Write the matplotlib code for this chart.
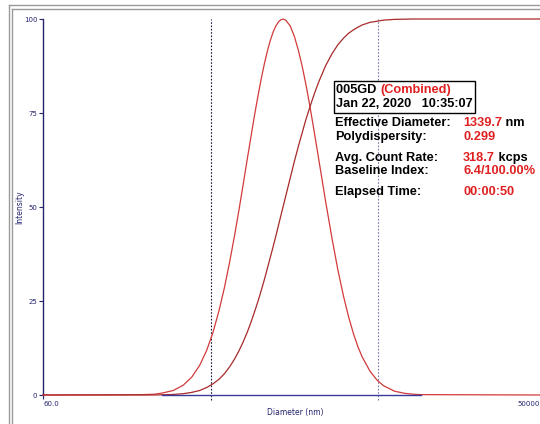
import matplotlib
matplotlib.use("Agg")
import matplotlib.pyplot as plt
from matplotlib.lines import Line2D
from matplotlib.patches import Rectangle

# diameters (nm) and intensity / cumulative values
diameter = [60, 230, 270, 300, 350, 400, 450, 500, 550, 600, 650, 700, 750, 800,
            850, 900, 950, 1000, 1050, 1100, 1150, 1200, 1250, 1300, 1350, 1400,
            1450, 1500, 1550, 1600, 1700, 1800, 1900, 2000, 2100, 2200, 2350,
            2500, 2750, 3000, 3250, 3500, 3750, 4000, 4250, 4500, 5000, 5500,
            6000, 7000, 8000, 9000, 10000, 50000]
intensity = [0, 0.1, 0.2, 0.5, 1.2, 2.6, 4.8, 7.9, 11.9, 16.8, 22.5, 28.7, 35.4,
             42.2, 49.1, 55.9, 62.5, 68.6, 74.4, 79.5, 84.1, 88.1, 91.5, 94.3,
             96.5, 98.1, 99.2, 99.8, 100, 99.7, 98.2, 95.4, 91.7, 87.5, 82.8,
             77.9, 70.3, 62.9, 51.4, 41.5, 33.1, 26.3, 20.8, 16.4, 12.9, 10.2,
             6.4, 4.0, 2.5, 1.0, 0.45, 0.2, 0.1, 0]
cumulative = [0, 0, 0, 0.05, 0.15, 0.35, 0.7, 1.2, 2.0, 3.0, 4.2, 5.7, 7.5, 9.5,
              11.7, 14.1, 16.6, 19.3, 22.1, 24.9, 27.8, 30.7, 33.7, 36.6, 39.4,
              42.2, 45.0, 47.7, 50.3, 52.8, 57.6, 62.1, 66.1, 69.7, 73.1, 76.0,
              79.9, 83.2, 87.6, 90.8, 93.2, 94.9, 96.2, 97.1, 97.8, 98.4, 99.1,
              99.4, 99.7, 99.9, 99.95, 100, 100, 100]
baseline_range = [300, 10000]
cursor_lo, cursor_hi = 583, 5583
y_ticks = [0, 25, 50, 75, 100]
x_ticks = [60, 50000]
x_ticklabels = ["60.0", "50000"]

sample_id = "005GD"
sample_tag = "(Combined)"
stamp = "Jan 22, 2020   10:35:07"
rows = [
    ("Effective Diameter:", "1339.7", "nm"),
    ("Polydispersity:", "0.299", ""),
    ("Avg. Count Rate:", "318.7", "kcps"),
    ("Baseline Index:", "6.4/100.00%", ""),
    ("Elapsed Time:", "00:00:50", ""),
]
row_y = [123, 137, 158, 171, 192]

W, H = 540, 424
navy = "#23236e"
red = "#d23a3a"
dark_red = "#a82a2a"
text_red = "#e02020"

fig = plt.figure(figsize=(W / 100, H / 100), dpi=100)
fig.patch.set_facecolor("white")

def fx(px):
    return px / W

def fy(py):
    return 1 - py / H

ax = fig.add_axes([fx(43), fy(395), fx(540) - fx(43), fy(19) - fy(395)])
ax.set_xscale("log")
ax.set_xlim(60, 50000)
ax.set_ylim(0, 100)

ax.plot(diameter, intensity, color=red, lw=0.9, clip_on=False, zorder=3)
ax.plot(diameter, cumulative, color=dark_red, lw=0.9, clip_on=False, zorder=3)
ax.plot(baseline_range, [0, 0], color="#3a3a9a", lw=1.0, clip_on=False, zorder=4)

ax.axvline(cursor_lo, ymin=-0.013, ymax=1, color="#1a1a40", lw=0.8,
           ls=(0, (1.5, 1.5)), clip_on=False, zorder=2)
ax.axvline(cursor_hi, ymin=-0.013, ymax=1, color="#7a7aa8", lw=0.8,
           ls=(0, (1.5, 1.5)), clip_on=False, zorder=2)

for s in ["top", "right", "bottom"]:
    ax.spines[s].set_visible(False)
ax.spines["left"].set_color(navy)
ax.spines["left"].set_linewidth(1.0)

ax.set_yticks(y_ticks)
ax.set_yticklabels([str(t) for t in y_ticks])
ax.tick_params(axis="y", direction="out", length=3, width=0.8, color=navy,
               labelcolor=navy, labelsize=5, pad=1)
ax.set_xticks(x_ticks)
ax.set_xticklabels(x_ticklabels)
ax.xaxis.set_minor_locator(matplotlib.ticker.NullLocator())
ax.tick_params(axis="x", direction="out", length=3, width=0.8, color=navy,
               labelcolor=navy, labelsize=5, pad=1.5)
for lab, ha in zip(ax.get_xticklabels(), ["left", "right"]):
    lab.set_ha(ha)
ax.get_xticklines()[2].set_visible(False)

fig.text(fx(20), fy(207), "Intensity", rotation=90, ha="center", va="center",
         fontsize=5.5, color=navy)
fig.text(fx(295), fy(413), "Diameter (nm)", ha="center", va="center",
         fontsize=5.5, color=navy)

# window frame
for y in (5, 9):
    fig.add_artist(Line2D([fx(9 if y == 5 else 12), 1], [fy(y), fy(y)],
                          color="#9a9a9a", lw=1.0))
for x in (9, 12):
    fig.add_artist(Line2D([fx(x), fx(x)], [fy(5 if x == 9 else 9), 0],
                          color="#9a9a9a", lw=1.0))

# info panel
fig.add_artist(Rectangle((fx(334), fy(113)), fx(475) - fx(334), fy(81) - fy(113),
                         transform=fig.transFigure, facecolor="white",
                         edgecolor="black", lw=1.0, zorder=5))
font = dict(fontsize=9.2, fontweight="bold", family="Liberation Sans",
            va="center", zorder=6)
renderer = fig.canvas.get_renderer()

def run(x, y, parts):
    # place text pieces one after another
    for s, c in parts:
        t = fig.text(fx(x), fy(y), s, color=c, **font)
        x = t.get_window_extent(renderer).x1

run(336, 90, [(sample_id + " ", "black"), (sample_tag, text_red)])
run(336, 104, [(stamp, "black")])

for y, (lab, val, unit) in zip(row_y, rows):
    fig.text(fx(335), fy(y), lab, color="black", **font)
    parts = [(val, text_red)]
    if unit:
        parts.append((" " + unit, "black"))
    run(463, y, parts)

fig.savefig("out.png", dpi=100)
